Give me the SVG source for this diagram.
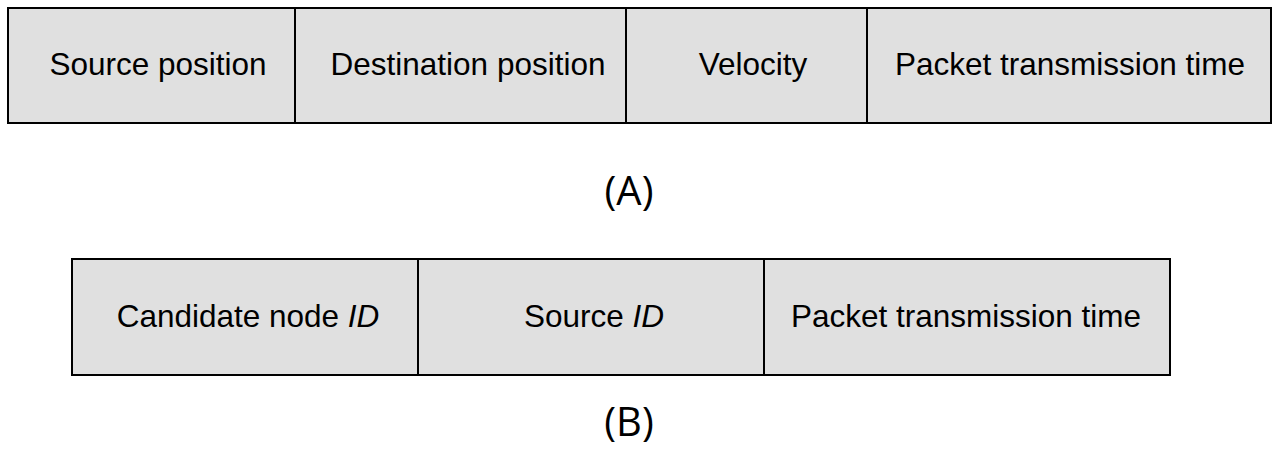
<svg xmlns="http://www.w3.org/2000/svg" width="1275" height="459" viewBox="0 0 1275 459">
<style>
.cell{fill:#e0e0e0;stroke:#000;stroke-width:2}
.lbl{font-family:"Liberation Sans",Arial,sans-serif;font-size:31.5px;fill:#000;text-anchor:middle}
.cap{font-family:"Open Sans","Noto Sans",sans-serif;font-size:40px;fill:#000;text-anchor:middle}
</style>
<rect width="1275" height="459" fill="#fff"/>
<g id="packetA">
<g id="a-source"><rect class="cell" x="8" y="8" width="287" height="115"/><text class="lbl" x="158" y="75">Source position</text></g>
<g id="a-dest"><rect class="cell" x="295" y="8" width="331" height="115"/><text class="lbl" x="468" y="75">Destination position</text></g>
<g id="a-vel"><rect class="cell" x="626" y="8" width="241" height="115"/><text class="lbl" x="753" y="75">Velocity</text></g>
<g id="a-time"><rect class="cell" x="867" y="8" width="404" height="115"/><text class="lbl" x="1070" y="75">Packet transmission time</text></g>
</g>
<text id="capA" class="cap" x="629" y="205">(A)</text>
<g id="packetB">
<g id="b-cand"><rect class="cell" x="72" y="259" width="346" height="116"/><text class="lbl" x="248" y="327">Candidate node <tspan font-style="italic">ID</tspan></text></g>
<g id="b-src"><rect class="cell" x="418" y="259" width="346" height="116"/><text class="lbl" x="594" y="327">Source <tspan font-style="italic">ID</tspan></text></g>
<g id="b-time"><rect class="cell" x="764" y="259" width="406" height="116"/><text class="lbl" x="966" y="327">Packet transmission time</text></g>
</g>
<text id="capB" class="cap" x="629" y="436">(B)</text>
<g id="connectors"/>
</svg>
